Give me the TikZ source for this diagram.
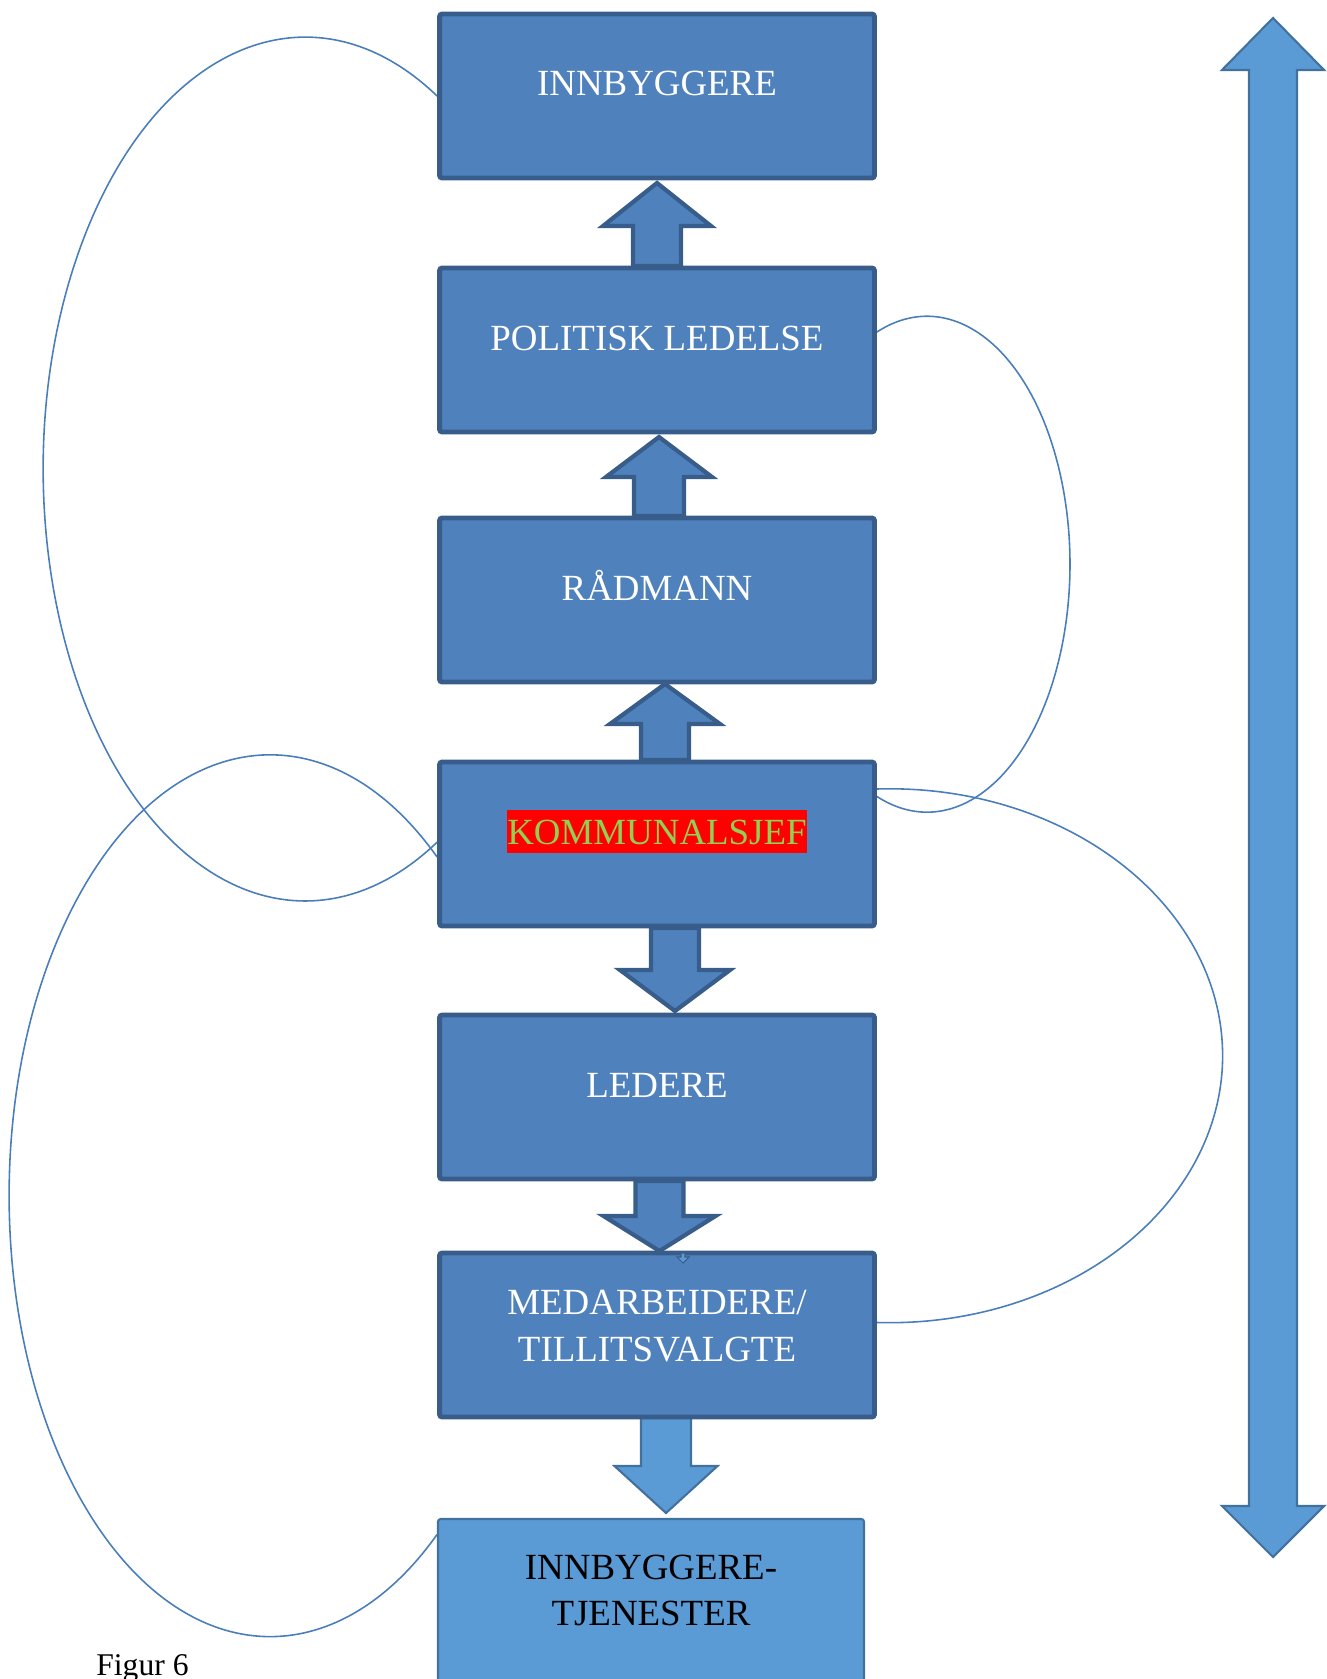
\documentclass[tikz,border=0pt]{standalone}
\usepackage{fontspec}
\setmainfont{Liberation Serif}
\usetikzlibrary{calc,backgrounds}
\definecolor{boxfill}{HTML}{4F81BD}
\definecolor{boxline}{HTML}{385D8A}
\definecolor{lightfill}{HTML}{5B9BD5}
\definecolor{lightline}{HTML}{41719C}
\definecolor{loopblue}{HTML}{4A7EBB}
\definecolor{kgreen}{HTML}{92D050}
\newcommand\capup{\rule{0pt}{1em}}
\newcommand\capdn[1][1em]{\rule[-#1]{0pt}{#1}}

\begin{document}
\begin{tikzpicture}[x=0.02cm,y=-0.02cm,
  box/.style={draw=boxline,fill=boxfill,line width=2.8pt,rounded corners=1.5pt,
    minimum width=8.7cm,minimum height=3.28cm,inner sep=0pt,align=center,
    text=white,font=\fontsize{21}{26.5}\selectfont},
  darr/.style={draw=boxline,fill=boxfill,line width=2.4pt},
  larr/.style={draw=lightline,fill=lightfill,line width=1.2pt},
  loopline/.style={draw=loopblue,line width=0.9pt}]
 \useasboundingbox (0,0) rectangle (1327,1679);
 \foreach \x/\s/\h/\a/\b/\c/\st in {657/24/54/266/226/183/darr,659/25/53/516/477/437/darr,
     665/24/55/760/724/684/darr,675/24/55/928/970/1011/darr,659.5/24/56/1181/1216/1251/darr,
     666/25/51.5/1418/1466/1513/larr}
   \draw[\st] (\x-\s,\a) -- (\x-\s,\b) -- (\x-\h,\b) -- (\x,\c) -- (\x+\h,\b) -- (\x+\s,\b) -- (\x+\s,\a) -- cycle;
 \node[box] (inn) at (657,96) {\capup INNBYGGERE\capdn};
 \node[box] (pol) at (657,350) {\capup POLITISK LEDELSE\capdn};
 \node[box] (rad) at (657,600) {\capup RÅDMANN\capdn};
 \node[box] (kom) at (657,844) {\capup{\fboxsep=0pt\colorbox{red}{\color{kgreen}KOMMUNALSJEF\rule[-.24em]{0pt}{1.15em}}}\capdn};
 \node[box] (led) at (657,1097) {\capup LEDERE\capdn};
 \node[box] (med) at (657,1335) {\capup MEDARBEIDERE/\\TILLITSVALGTE\capdn[.84em]};
 \node[box,draw=lightline,fill=lightfill,line width=1.2pt,text=black,
   minimum width=8.52cm,minimum height=4.02cm] (tje) at (651,1619.5) {\capup INNBYGGERE-\\TJENESTER\capdn[1.92em]};
 \draw[boxline,fill=lightfill,line width=0.6pt] (681,1253) -- (681,1257) -- (677,1257) -- (683,1263)
   -- (689,1257) -- (685,1257) -- (685,1253) -- cycle;
 \draw[larr] (1273,18) -- (1222,70) -- (1249,70) -- (1249,1506) -- (1222,1506) -- (1273,1557)
   -- (1324,1506) -- (1297,1506) -- (1297,70) -- (1324,70) -- cycle;
 \node[anchor=base west,inner sep=0pt,font=\fontsize{18}{22}\selectfont] (fig) at (96,1675) {Figur 6};
 \begin{scope}[on background layer]
  \draw[loopline] (inn.west) arc[start angle=59.75,end angle=300.25,x radius=5.24cm,y radius=8.64cm];
  \draw[loopline] ($(kom.west)+(0,13)$) arc[start angle=50.2,end angle=309.8,x radius=5.22cm,y radius=8.82cm];
  \draw[loopline] ($(pol.east)+(0,-18)$) arc[start angle=110.5,end angle=-110.5,x radius=2.86cm,y radius=4.96cm];
  \draw[loopline] ($(kom.east)+(0,-55)$) arc[start angle=92.2,end angle=-92.2,x radius=6.66cm,y radius=5.34cm];
 \end{scope}
\end{tikzpicture}
\end{document}
